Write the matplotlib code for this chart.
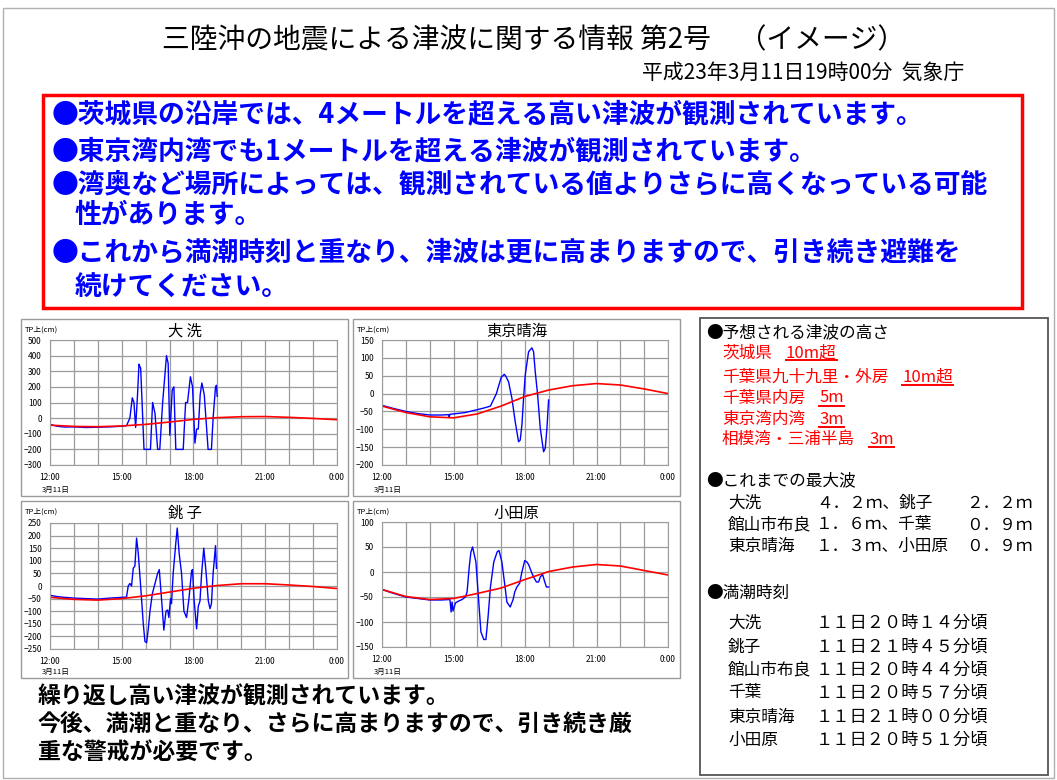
import matplotlib
matplotlib.use('Agg')
import matplotlib.pyplot as plt
from matplotlib.patches import Rectangle
from matplotlib.lines import Line2D

plt.rcParams['font.family'] = ['Noto Sans CJK JP', 'DejaVu Sans']

W, H = 1057, 780

# ---- data (hours of 3/11, cm above TP) ----
tide_hours = [12, 13, 14, 15, 16, 17, 18, 19, 20, 21, 22, 23, 24]
xtick_hours = [12, 15, 18, 21, 24]
xtick_labels = ['12:00', '15:00', '18:00', '21:00', '0:00']

oarai_t = [12.0, 12.3, 12.6, 13.0, 13.5, 14.0, 14.5, 15.0, 15.2, 15.34, 15.44, 15.51,
           15.58, 15.66, 15.72, 15.76, 15.79, 15.85, 15.93, 16.20, 16.29, 16.39, 16.50,
           16.59, 16.71, 16.87, 16.94, 17.01, 17.11, 17.18, 17.26, 17.57, 17.67, 17.75,
           17.87, 17.96, 18.06, 18.13, 18.20, 18.28, 18.35, 18.45, 18.61, 18.75, 18.82,
           18.92, 18.96, 18.99]
oarai_obs = [-40, -52, -57, -56, -60, -58, -56, -52, -48, 0, 130, 100,
             -60, 150, 345, 330, 320, 100, -200, -200, 100, 30, -200,
             -200, 100, 400, 350, -110, 180, 200, -200, -200, 100, 100,
             265, 200, -160, -70, -70, 150, 225, 150, -200, -200, 0,
             200, 210, 140]
oarai_tide = [-45, -53, -55, -50, -40, -25, -8, 3, 9, 10, 5, -2, -10]

tokyo_t = [12.0, 12.5, 13.0, 13.5, 14.0, 14.5, 14.8, 14.82, 14.85, 15.0, 15.5, 16.0,
           16.3, 16.55, 16.8, 17.0, 17.13, 17.2, 17.31, 17.45, 17.59, 17.73, 17.80,
           17.87, 17.94, 18.01, 18.15, 18.29, 18.36, 18.43, 18.53, 18.64, 18.78, 18.85,
           18.92, 18.99]
tokyo_obs = [-33, -42, -50, -56, -60, -60, -59, -66, -58, -57, -53, -45,
             -40, -35, 0, 45, 54, 48, 33, -13, -79, -135, -130,
             -88, -13, 52, 117, 128, 117, 61, -4, -97, -163, -153,
             -97, -18]
tokyo_tide = [-35, -53, -65, -68, -57, -35, -8, 10, 22, 28, 24, 13, 0]

choshi_t = [12.0, 12.3, 12.6, 13.0, 13.5, 14.0, 14.5, 15.0, 15.2, 15.27, 15.34, 15.41,
            15.48, 15.55, 15.62, 15.69, 15.79, 15.90, 15.97, 16.04, 16.11, 16.18, 16.28,
            16.39, 16.50, 16.57, 16.67, 16.76, 16.85, 16.92, 16.97, 17.04, 17.08, 17.15,
            17.25, 17.32, 17.40, 17.50, 17.60, 17.71, 17.81, 17.92, 17.96, 18.02, 18.13,
            18.20, 18.27, 18.34, 18.43, 18.52, 18.62, 18.69, 18.75, 18.82, 18.92, 18.96]
choshi_obs = [-37, -42, -45, -48, -50, -52, -48, -45, -44, 0, 10, 0,
              70, 80, 190, 130, 0, -150, -220, -225, -170, -100, -30,
              10, 50, 65, -60, -175, -100, -95, -125, -50, -70, 50,
              160, 230, 130, 50, -100, -125, -50, 60, 65, -50, -170,
              -80, -60, 50, 150, 60, -60, -90, -70, 50, 160, 70]
choshi_tide = [-45, -53, -56, -50, -39, -24, -9, 2, 9, 9, 4, -2, -10]

odawara_t = [12.0, 12.5, 13.0, 13.5, 14.0, 14.5, 14.85, 14.90, 14.94, 14.98, 15.08,
             15.22, 15.36, 15.50, 15.57, 15.66, 15.73, 15.80, 15.94, 16.06, 16.15, 16.27,
             16.36, 16.45, 16.55, 16.69, 16.83, 16.91, 17.03, 17.15, 17.24, 17.38, 17.50,
             17.57, 17.66, 17.78, 17.87, 17.99, 18.08, 18.15, 18.27, 18.36, 18.48, 18.57,
             18.64, 18.74, 18.83, 18.90, 18.99]
odawara_obs = [-35, -43, -50, -53, -56, -56, -55, -80, -60, -78, -62,
               -58, -55, -50, -40, 10, 40, 50, 20, -60, -120, -135,
               -135, -90, -30, 20, 40, 43, 20, -25, -60, -70, -55,
               -40, -30, -22, 0, 23, 20, 15, 0, -10, -20, -20,
               -10, -5, -20, -30, -30]
odawara_tide = [-35, -49, -55, -53, -43, -32, -15, 1, 10, 15, 12, 3, -6]

# ---- texts ----
title = '三陸沖の地震による津波に関する情報 第2号　（イメージ）'
issued = '平成23年3月11日19時00分  気象庁'
alert_lines = ['●茨城県の沿岸では、4メートルを超える高い津波が観測されています。',
               '●東京湾内湾でも1メートルを超える津波が観測されています。',
               '●湾奥など場所によっては、観測されている値よりさらに高くなっている可能',
               '性があります。',
               '●これから満潮時刻と重なり、津波は更に高まりますので、引き続き避難を',
               '続けてください。']
bottom_lines = ['繰り返し高い津波が観測されています。',
                '今後、満潮と重なり、さらに高まりますので、引き続き厳',
                '重な警戒が必要です。']
forecast_areas = ['茨城県', '千葉県九十九里・外房', '千葉県内房', '東京湾内湾', '相模湾・三浦半島']
forecast_heights = ['10m超', '10m超', '5m', '3m', '3m']
max_names_left = ['大洗', '館山市布良', '東京晴海']
max_vals_left = ['４．２ｍ、', '１．６ｍ、', '１．３ｍ、']
max_names_right = ['銚子', '千葉', '小田原']
max_vals_right = ['２．２ｍ', '０．９ｍ', '０．９ｍ']
hw_names = ['大洗', '銚子', '館山市布良', '千葉', '東京晴海', '小田原']
hw_times = ['１１日２０時１４分頃', '１１日２１時４５分頃', '１１日２０時４４分頃',
            '１１日２０時５７分頃', '１１日２１時００分頃', '１１日２０時５１分頃']

fig = plt.figure(figsize=(W / 100, H / 100), dpi=100)


def fx(x):
    return x / W


def fy(y):
    return 1 - y / H


def put(x, y, s, **kw):
    return fig.text(fx(x), fy(y), s, va='center', **kw)


def box(x0, y0, x1, y1, color, lw):
    fig.add_artist(Rectangle((fx(x0), fy(y1)), (x1 - x0) / W, (y1 - y0) / H,
                             transform=fig.transFigure, fill=False,
                             edgecolor=color, linewidth=lw))


def panel(frame, area, name, t, obs, tide, yticks):
    x0, y0, x1, y1 = frame
    box(x0, y0, x1, y1, '#9a9a9a', 1)
    ax = fig.add_axes([fx(area[0]), fy(area[3]),
                       (area[2] - area[0]) / W, (area[3] - area[1]) / H])
    ax.plot(t, obs, color='#0000ff', lw=1)
    ax.plot(tide_hours, tide, color='#ff0000', lw=1.2)
    ax.set_xlim(12, 24)
    ax.set_ylim(yticks[0], yticks[-1])
    ax.set_yticks(yticks)
    ax.set_xticks(xtick_hours)
    ax.set_xticklabels(xtick_labels)
    ax.set_xticks(tide_hours, minor=True)
    ax.grid(True, which='both', color='#9c9c9c', lw=0.9)
    ax.tick_params(which='both', length=0, labelsize=6, pad=6)
    for s in ax.spines.values():
        s.set_color('#9c9c9c')
    put((x0 + x1) / 2, y0 + 12, name, ha='center', fontsize=11)
    put(x0 + 4, y0 + 11, 'TP上(cm)', fontsize=5.5)
    put(area[0] - 8, y1 - 6, '3月11日', fontsize=5.5)


# outer page frame
box(3, 8, 1054, 778, '#b0b0b0', 1)

put(534, 40, title, ha='center', fontsize=20)
put(964, 73, issued, ha='right', fontsize=15)

# red alert box
box(43, 95, 1022, 308, '#ff0000', 2.5)
alert_x = [52, 52, 52, 75, 52, 75]
alert_y = [114, 151, 184, 215, 252, 288]
for s, x, y in zip(alert_lines, alert_x, alert_y):
    put(x, y, s, fontsize=19.3, fontweight='bold', color='#0000ff')

# four tide gauge charts
panel((21, 319, 348, 496), (50, 340, 337, 465), '大 洗',
      oarai_t, oarai_obs, oarai_tide, list(range(-300, 501, 100)))
panel((353, 319, 680, 496), (382, 340, 668, 465), '東京晴海',
      tokyo_t, tokyo_obs, tokyo_tide, list(range(-200, 151, 50)))
panel((21, 501, 348, 678), (50, 523, 337, 649), '銚 子',
      choshi_t, choshi_obs, choshi_tide, list(range(-250, 251, 50)))
panel((353, 501, 680, 678), (382, 522, 668, 647), '小田原',
      odawara_t, odawara_obs, odawara_tide, list(range(-150, 101, 50)))

# bottom message
for s, y in zip(bottom_lines, [697, 724, 752]):
    put(38, y, s, fontsize=16.5, fontweight='bold', color='black')

# right info panel
box(700, 318, 1048, 775, '#555555', 1.3)
put(706, 333, '●予想される津波の高さ', fontsize=12)
fc_y = [353, 377, 398, 419, 439]
area_txt = [put(722, y, s, fontsize=12, color='#ff0000') for s, y in zip(forecast_areas, fc_y)]

put(706, 481, '●これまでの最大波', fontsize=12)
for i, y in enumerate([503, 525, 546]):
    put(728, y, max_names_left[i], fontsize=12)
    put(816, y, max_vals_left[i] + max_names_right[i], fontsize=12)
    put(966, y, max_vals_right[i], fontsize=12)

put(706, 593, '●満潮時刻', fontsize=12)
for s, v, y in zip(hw_names, hw_times, [623, 647, 670, 693, 717, 740]):
    put(728, y, s, fontsize=12)
    put(816, y, v, fontsize=12.4)

# forecast heights go right after the area name, underlined
fig.canvas.draw()
r = fig.canvas.get_renderer()
val_txt = []
for t, s, y in zip(area_txt, forecast_heights, fc_y):
    bb = t.get_window_extent(r)
    val_txt.append(put(bb.x1 + 14, y, s, fontsize=12, color='#ff0000'))
fig.canvas.draw()
for t in val_txt:
    bb = t.get_window_extent(r)
    fig.add_artist(Line2D([bb.x0 / W, bb.x1 / W], [(bb.y0 + 1) / H] * 2,
                          transform=fig.transFigure, color='#ff0000', lw=1.4))

fig.savefig('out.png', dpi=100)
